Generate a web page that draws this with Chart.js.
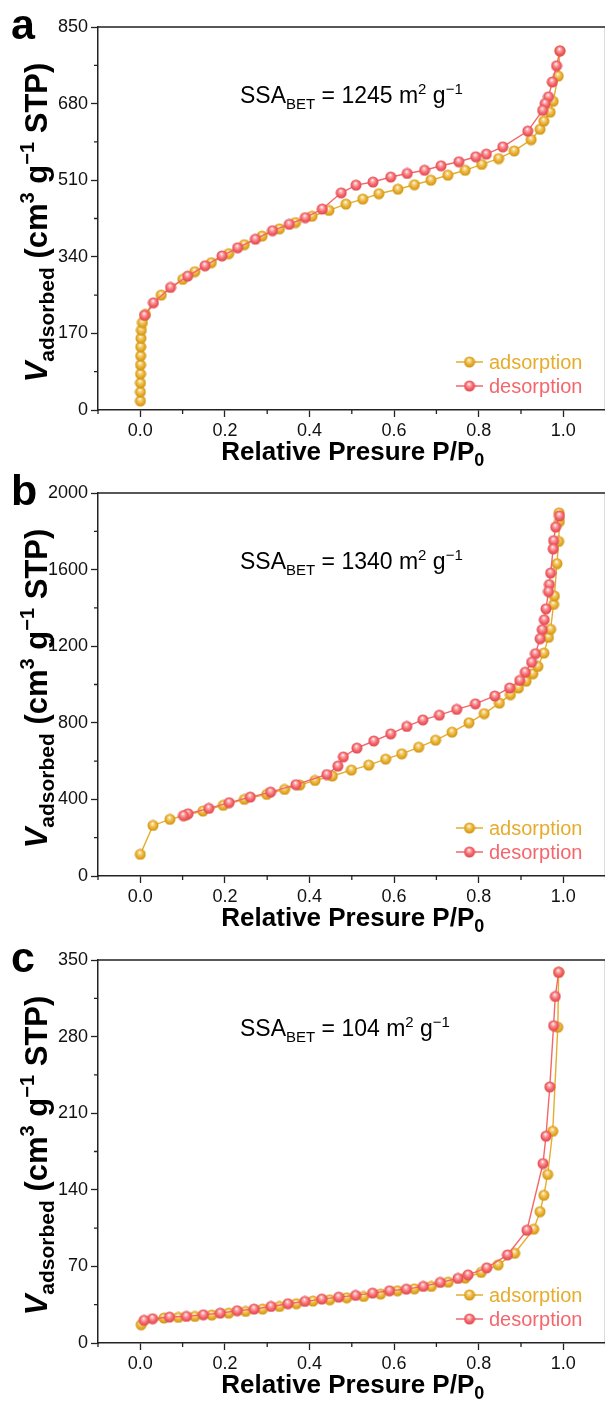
<!DOCTYPE html>
<html>
<head>
<meta charset="utf-8">
<script src="https://cdn.jsdelivr.net/npm/chart.js@4.4.1/dist/chart.umd.min.js"></script>
<style>
  html, body { margin: 0; padding: 0; background: #fff; overflow: hidden; }
  #wrap { position: relative; width: 605px; height: 1403px; overflow: hidden; }
  .panel { position: absolute; left: 0; width: 612px; height: 467px; }
</style>
</head>
<body>
<div id="wrap">
  <div class="panel" style="top:0px"><canvas id="chart-a" width="612" height="467"></canvas></div>
  <div class="panel" style="top:466px"><canvas id="chart-b" width="612" height="467"></canvas></div>
  <div class="panel" style="top:933px"><canvas id="chart-c" width="612" height="467"></canvas></div>
</div>
<script>
// ---- data ----
const pressureTicks = [0, 0.2, 0.4, 0.6, 0.8, 1.0];
const seriesNames = ["adsorption", "desorption"];

// panel a
const aTicks = [0, 170, 340, 510, 680, 850];
const aAdsP = [0.0002, 0.0003, 0.0004, 0.0005, 0.0006, 0.0008, 0.001, 0.0015, 0.0025, 0.005, 0.012, 0.0495, 0.1005, 0.129, 0.168, 0.209, 0.246, 0.288, 0.329, 0.367, 0.406, 0.446, 0.486, 0.526, 0.564, 0.609, 0.648, 0.687, 0.727, 0.768, 0.807, 0.847, 0.884, 0.924, 0.945, 0.954, 0.969, 0.976, 0.988, 0.992];
const aAdsV = [20, 40, 60, 80, 100, 120, 140, 159, 177, 194, 212, 255, 290, 307, 327, 347, 367, 386, 402, 416, 430, 443, 457, 468, 480, 490, 500, 510, 521, 532, 545, 558, 575, 600, 623, 641, 661, 685, 741, 797];
const aDesP = [0.992, 0.984, 0.974, 0.965, 0.957, 0.951, 0.916, 0.857, 0.818, 0.793, 0.753, 0.711, 0.672, 0.631, 0.592, 0.550, 0.510, 0.475, 0.430, 0.390, 0.352, 0.3125, 0.272, 0.230, 0.193, 0.153, 0.112, 0.0715, 0.031, 0.010];
const aDesV = [797, 764, 728, 695, 680, 665, 619, 584, 568, 562, 551, 542, 532, 525, 517, 506, 499, 482, 446, 427, 412, 398, 379, 360, 342, 320, 297, 272, 238, 210];

// panel b
const bTicks = [0, 400, 800, 1200, 1600, 2000];
const bAdsP = [0.0, 0.030, 0.070, 0.107, 0.148, 0.196, 0.246, 0.299, 0.341, 0.377, 0.413, 0.454, 0.499, 0.540, 0.580, 0.618, 0.658, 0.698, 0.737, 0.777, 0.813, 0.849, 0.875, 0.894, 0.912, 0.928, 0.940, 0.954, 0.965, 0.970, 0.977, 0.979, 0.985, 0.989, 0.991, 0.990];
const bAdsV = [113, 264, 296, 317, 339, 369, 400, 426, 452, 475, 499, 522, 553, 579, 610, 638, 672, 709, 751, 800, 848, 903, 947, 982, 1017, 1056, 1094, 1164, 1246, 1288, 1418, 1462, 1631, 1747, 1851, 1896];
const bDesP = [0.991, 0.982, 0.977, 0.976, 0.970, 0.967, 0.965, 0.959, 0.955, 0.950, 0.945, 0.934, 0.925, 0.910, 0.897, 0.873, 0.838, 0.792, 0.748, 0.707, 0.668, 0.630, 0.592, 0.552, 0.512, 0.480, 0.467, 0.441, 0.368, 0.308, 0.260, 0.210, 0.162, 0.113, 0.102];
const bDesV = [1880, 1822, 1751, 1708, 1582, 1522, 1485, 1395, 1338, 1286, 1239, 1161, 1116, 1064, 1021, 982, 940, 899, 870, 840, 815, 781, 742, 705, 668, 622, 574, 530, 477, 438, 412, 383, 353, 325, 315];

// panel c
const cTicks = [0, 70, 140, 210, 280, 350];
const cAdsP = [0.002, 0.056, 0.090, 0.129, 0.169, 0.209, 0.249, 0.289, 0.329, 0.369, 0.408, 0.448, 0.488, 0.528, 0.568, 0.608, 0.648, 0.688, 0.728, 0.768, 0.806, 0.846, 0.885, 0.930, 0.945, 0.954, 0.963, 0.975, 0.987, 0.989];
const cAdsV = [16.7, 22.8, 23.4, 24.3, 25.5, 27.3, 28.9, 31.0, 33.4, 35.9, 38.3, 39.5, 41.3, 42.5, 44.7, 47.7, 49.5, 51.7, 55.6, 59.3, 64.5, 71.4, 82, 104, 120, 135, 154, 193.5, 288.6, 338.8];
const cDesP = [0.989, 0.981, 0.977, 0.968, 0.959, 0.952, 0.914, 0.868, 0.819, 0.775, 0.751, 0.709, 0.669, 0.629, 0.589, 0.549, 0.509, 0.469, 0.429, 0.389, 0.349, 0.309, 0.269, 0.229, 0.189, 0.149, 0.109, 0.069, 0.029, 0.009];
const cDesV = [338.8, 316.7, 290, 234, 189, 164, 103, 80.5, 68.7, 62.3, 59, 55.3, 51.7, 49.2, 47.7, 45.6, 43.5, 41.9, 40.1, 38, 35.9, 33.4, 31, 29.5, 27.3, 25.8, 24.3, 23.7, 22.2, 20.7];

const panelLetters = ["a", "b", "c"];
const ssaValues = ["1245", "1340", "104"];

// ---- styles ----
const FONT = "'Liberation Sans', Arial, Helvetica, sans-serif";
const AXIS = "#222";
const ADS = "#E6AC2C";
const DES = "#F4666B";

function sphere(base, light, dark) {
  const c = document.createElement("canvas");
  c.width = c.height = 12;
  const g = c.getContext("2d");
  const grd = g.createRadialGradient(5.4, 3.9, 0.2, 6, 6, 6);
  grd.addColorStop(0, "#ffffff");
  grd.addColorStop(0.22, light);
  grd.addColorStop(0.6, base);
  grd.addColorStop(1, dark);
  g.fillStyle = grd;
  g.beginPath();
  g.arc(6, 6, 5.5, 0, Math.PI * 2);
  g.fill();
  return c;
}
const adsDot = sphere("#E8AE2A", "#F6D58A", "#C98E12");
const desDot = sphere("#F4646A", "#FBB0B2", "#D9434A");

function pts(xs, ys) {
  return xs.map((x, i) => ({ x: x, y: ys[i] }));
}

// text with sub/superscripts
function rich(ctx, parts, x, y, align) {
  let w = 0;
  parts.forEach(p => { ctx.font = p.f; p.w = ctx.measureText(p.t).width; w += p.w; });
  let cx = align === "center" ? x - w / 2 : x;
  parts.forEach(p => { ctx.font = p.f; ctx.fillText(p.t, cx, y + (p.dy || 0)); cx += p.w; });
}

const decor = {
  id: "decor",
  afterDraw(chart, args, o) {
    const ctx = chart.ctx, a = chart.chartArea;
    const xs = chart.scales.x, ys = chart.scales.y;
    ctx.save();
    // top / right frame
    ctx.strokeStyle = AXIS;
    ctx.lineWidth = 1.5;
    ctx.beginPath();
    ctx.moveTo(a.left, a.top);
    ctx.lineTo(a.right, a.top);
    ctx.lineTo(a.right, a.bottom);
    ctx.stroke();
    // minor ticks
    ctx.lineWidth = 1.3;
    ctx.beginPath();
    for (let v = -0.1; v < 1.15; v += 0.2) {
      const px = xs.getPixelForValue(v);
      ctx.moveTo(px, a.bottom); ctx.lineTo(px, a.bottom + 4);
    }
    const t = o.ticks;
    for (let i = 0; i < t.length - 1; i++) {
      const py = ys.getPixelForValue((t[i] + t[i + 1]) / 2);
      ctx.moveTo(a.left, py); ctx.lineTo(a.left - 4, py);
    }
    ctx.stroke();

    ctx.fillStyle = "#000";
    ctx.textBaseline = "alphabetic";
    // panel letter
    ctx.font = "bold 43px " + FONT;
    ctx.fillText(o.letter, 11, 39);

    // SSA text
    rich(ctx, [
      { t: "SSA", f: "23px " + FONT },
      { t: "BET", f: "15px " + FONT, dy: 6 },
      { t: " = " + o.ssa + " m", f: "23px " + FONT },
      { t: "2", f: "15px " + FONT, dy: -9 },
      { t: " g", f: "23px " + FONT },
      { t: "\u22121", f: "15px " + FONT, dy: -9 }
    ], 240, 103, "left");

    // x title
    rich(ctx, [
      { t: "Relative Presure P/P", f: "bold 26px " + FONT },
      { t: "0", f: "bold 18px " + FONT, dy: 6 }
    ], (a.left + a.right) / 2 + 1, 460, "center");

    // y title
    ctx.save();
    ctx.translate(47, (a.top + a.bottom) / 2 + 4);
    ctx.rotate(-Math.PI / 2);
    rich(ctx, [
      { t: "V", f: "italic bold 31px " + FONT },
      { t: "adsorbed", f: "bold 21px " + FONT, dy: 7 },
      { t: " (cm", f: "bold 31px " + FONT },
      { t: "3", f: "bold 20px " + FONT, dy: -13 },
      { t: " g", f: "bold 31px " + FONT },
      { t: "\u22121", f: "bold 20px " + FONT, dy: -13 },
      { t: " STP)", f: "bold 31px " + FONT }
    ], 0, 0, "center");
    ctx.restore();

    // legend
    const rows = [[ADS, adsDot, 362], [DES, desDot, 386]];
    ctx.font = "20px " + FONT;
    rows.forEach((r, i) => {
      ctx.strokeStyle = r[0];
      ctx.lineWidth = 1.5;
      ctx.beginPath();
      ctx.moveTo(456, r[2]); ctx.lineTo(483, r[2]);
      ctx.stroke();
      ctx.drawImage(r[1], 469.5 - 6, r[2] - 6);
      ctx.fillStyle = r[0];
      ctx.fillText(seriesNames[i], 489, r[2] + 7);
    });
    ctx.restore();
  }
};

function makeChart(id, letter, ssa, yTicks, ads, des) {
  const yMax = yTicks[yTicks.length - 1];
  new Chart(document.getElementById(id), {
    type: "scatter",
    data: {
      datasets: [
        {
          label: seriesNames[1],
          data: des,
          showLine: true,
          borderColor: DES,
          borderWidth: 1.4,
          pointStyle: desDot,
          pointRadius: 5,
          order: 0
        },
        {
          label: seriesNames[0],
          data: ads,
          showLine: true,
          borderColor: ADS,
          borderWidth: 1.4,
          pointStyle: adsDot,
          pointRadius: 5,
          order: 1
        }
      ]
    },
    options: {
      responsive: false,
      animation: false,
      layout: { padding: { top: 27, right: 5, left: 0, bottom: 0 } },
      plugins: {
        legend: { display: false },
        tooltip: { enabled: false },
        decor: { letter: letter, ssa: ssa, ticks: yTicks }
      },
      scales: {
        x: {
          type: "linear",
          min: -0.1,
          max: 1.1,
          afterBuildTicks: s => { s.ticks = pressureTicks.map(v => ({ value: v })); },
          afterFit: s => { s.height = 57; },
          ticks: {
            font: { family: FONT, size: 18 },
            color: "#111",
            padding: 3,
            maxRotation: 0,
            autoSkip: false,
            callback: v => v.toFixed(1)
          },
          grid: { display: true, drawOnChartArea: false, drawTicks: true, tickLength: 7, tickColor: AXIS, tickWidth: 1.3 },
          border: { display: true, color: AXIS, width: 1.5 }
        },
        y: {
          type: "linear",
          min: 0,
          max: yMax,
          afterBuildTicks: s => { s.ticks = yTicks.map(v => ({ value: v })); },
          afterFit: s => { s.width = 98; },
          ticks: {
            font: { family: FONT, size: 18 },
            color: "#111",
            padding: 3,
            autoSkip: false,
            callback: v => String(v)
          },
          grid: { display: true, drawOnChartArea: false, drawTicks: true, tickLength: 7, tickColor: AXIS, tickWidth: 1.3 },
          border: { display: true, color: AXIS, width: 1.5 }
        }
      }
    },
    plugins: [decor]
  });
}

makeChart("chart-a", panelLetters[0], ssaValues[0], aTicks, pts(aAdsP, aAdsV), pts(aDesP, aDesV));
makeChart("chart-b", panelLetters[1], ssaValues[1], bTicks, pts(bAdsP, bAdsV), pts(bDesP, bDesV));
makeChart("chart-c", panelLetters[2], ssaValues[2], cTicks, pts(cAdsP, cAdsV), pts(cDesP, cDesV));
</script>
</body>
</html>
